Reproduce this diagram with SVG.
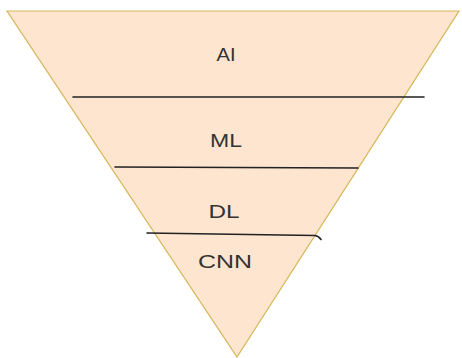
<svg xmlns="http://www.w3.org/2000/svg" width="462" height="358" viewBox="0 0 462 358">
  <style>
    .tri { fill: #fde5cf; stroke: #d6b656; stroke-width: 1.2; }
    .div { fill: none; stroke: #222222; stroke-width: 1.6; stroke-linecap: round; }
    .lbl { font-family: "Liberation Sans", Arial, sans-serif; font-size: 18px; fill: #333333; text-anchor: middle; }
  </style>
  <rect width="462" height="358" fill="#ffffff"/>
  <g id="pyramid">
    <polygon class="tri" points="7,11 459,11 237,357"/>
  </g>
  <g id="connectors">
    <line class="div" x1="73" y1="97" x2="424" y2="97"/>
    <line class="div" x1="115" y1="167" x2="358" y2="168"/>
    <path class="div" d="M147 233 L315 235.5 Q319 236 321 239.5"/>
  </g>
  <g id="node-ai"><text class="lbl" x="226" y="61" textLength="19" lengthAdjust="spacingAndGlyphs">AI</text></g>
  <g id="node-ml"><text class="lbl" x="226" y="147" textLength="32" lengthAdjust="spacingAndGlyphs">ML</text></g>
  <g id="node-dl"><text class="lbl" x="224" y="218" textLength="31" lengthAdjust="spacingAndGlyphs">DL</text></g>
  <g id="node-cnn"><text class="lbl" x="225" y="268" textLength="54" lengthAdjust="spacingAndGlyphs">CNN</text></g>
</svg>
